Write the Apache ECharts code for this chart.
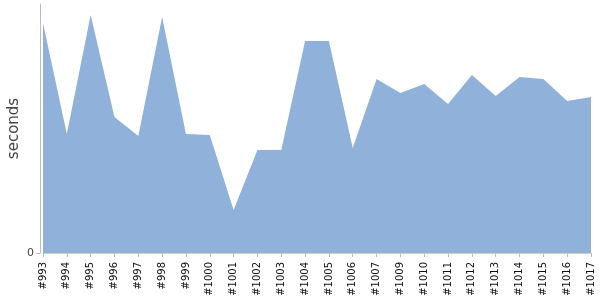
<!DOCTYPE html>
<html><head><meta charset="utf-8">
<script src="https://cdn.jsdelivr.net/npm/echarts@6/dist/echarts.min.js"></script>
<style>html,body{margin:0;padding:0;background:#fff}#c{width:600px;height:300px}</style>
</head><body><div id="c"></div>
<script>
const categories = ['#993','#994','#995','#996','#997','#998','#999','#1000','#1001','#1002','#1003','#1004','#1005','#1006','#1007','#1009','#1010','#1011','#1012','#1013','#1014','#1015','#1016','#1017'];
const seconds = [230,119,238,136,117,236,119,118,43,103,103,212,212,105,174,160,169,149,178,157,176,174,152,156];
const yTicks = [0];
const yMax = 249;
const chart = echarts.init(document.getElementById('c'));
chart.setOption({
  animation:false,
  grid:{left:43,right:9,top:4,bottom:47,outerBoundsMode:'none',containLabel:false},
  xAxis:{type:'category',data:categories,boundaryGap:false,
    axisLine:{show:true,lineStyle:{color:'#ccc'}},
    axisTick:{show:true,alignWithLabel:true,length:4,lineStyle:{color:'#bbb'}},
    axisLabel:{rotate:90,interval:0,fontSize:10,color:'#111',fontFamily:'DejaVu Sans',margin:9}},
  yAxis:{type:'value',min:0,max:yMax,offset:3,
    name:'seconds',nameLocation:'middle',nameGap:18,nameRotate:90,nameMoveOverlap:false,
    nameTextStyle:{fontSize:15,color:'#444',fontFamily:'DejaVu Sans'},
    axisLine:{show:true,lineStyle:{color:'#bbb'}},
    axisTick:{show:true,length:4,customValues:yTicks,lineStyle:{color:'#bbb'}},
    splitLine:{show:false},
    axisLabel:{fontSize:11,color:'#444',fontFamily:'DejaVu Sans',margin:6,customValues:yTicks}},
  series:[{type:'line',data:seconds,symbol:'none',lineStyle:{width:0},
    areaStyle:{color:'#8FB1DA',opacity:1}}]
});
</script></body></html>
